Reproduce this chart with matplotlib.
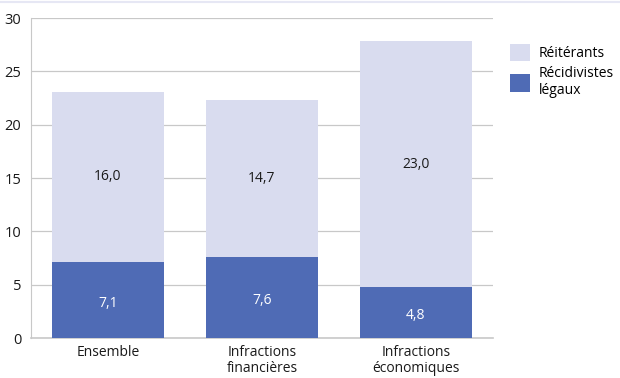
import matplotlib
matplotlib.use("Agg")
import matplotlib.pyplot as plt
from matplotlib.patches import Patch
from matplotlib.lines import Line2D

categories = ["Ensemble", "Infractions\nfinancières", "Infractions\néconomiques"]
recidivistes = [7.1, 7.6, 4.8]
reiterants = [16.0, 14.7, 23.0]
labels_rec = ["7,1", "7,6", "4,8"]
labels_rei = ["16,0", "14,7", "23,0"]

dark = "#4F6BB5"
light = "#D9DCEF"

plt.rcParams['font.family'] = ['Open Sans', 'DejaVu Sans']
fs = 10

fig = plt.figure(figsize=(6.2, 3.78), dpi=100)
ax = fig.add_axes([31/620, 1 - 338/378, 462/620, 320/378])

x = list(range(len(categories)))
w = 0.727
ax.bar(x, recidivistes, width=w, color=dark, zorder=3)
ax.bar(x, reiterants, width=w, bottom=recidivistes, color=light, zorder=3)

for i in x:
    ax.text(i, recidivistes[i] / 2 - 0.3, labels_rec[i], ha='center', va='center',
            color='white', fontsize=fs, zorder=4)
    ax.text(i, recidivistes[i] + reiterants[i] / 2, labels_rei[i], ha='center',
            va='center', color='#1a1a1a', fontsize=fs, zorder=4)

ax.set_xlim(-0.5, 2.5)
ax.set_ylim(0, 30)
ax.set_yticks([0, 5, 10, 15, 20, 25, 30])
ax.set_xticks(x)
ax.set_xticklabels(categories, fontsize=fs, color='#1a1a1a', linespacing=1.1)
ax.tick_params(axis='y', labelsize=fs + 0.5, colors='#1a1a1a', length=0, pad=7)
ax.tick_params(axis='x', length=0, pad=5)
ax.grid(axis='y', color='#c8c8c8', linewidth=0.9, zorder=0)
for s in ['top', 'right']:
    ax.spines[s].set_visible(False)
ax.spines['left'].set_color('#c8c8c8')
ax.spines['bottom'].set_color('#c8c8c8')
ax.spines['bottom'].set_linewidth(1.2)

handles = [Patch(facecolor=light, edgecolor='none'), Patch(facecolor=dark, edgecolor='none')]
fig.legend(handles, ["Réitérants", "Récidivistes\nlégaux"], loc='upper left',
           bbox_to_anchor=(504/620, 1 - 38/378), frameon=False, fontsize=fs,
           handlelength=1.5, handleheight=1.6, handletextpad=0.6, labelspacing=0.3,
           borderaxespad=0)

fig.add_artist(Line2D([0, 1], [1 - 1.5/378, 1 - 1.5/378], color='#e6e7f4', linewidth=1.5,
                      transform=fig.transFigure))

fig.savefig("out.png", dpi=100)
